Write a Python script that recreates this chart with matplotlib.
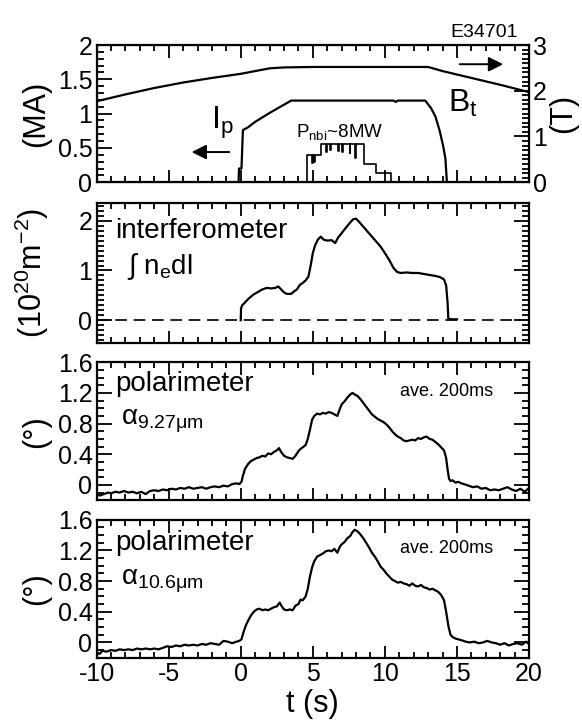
import numpy as np
import matplotlib
matplotlib.use('Agg')
import matplotlib.pyplot as plt
from matplotlib.ticker import MultipleLocator, FuncFormatter

plt.rcParams['font.family'] = 'Liberation Sans'
plt.rcParams['mathtext.fontset'] = 'custom'
plt.rcParams['mathtext.rm'] = 'Liberation Sans'
plt.rcParams['mathtext.it'] = 'Liberation Sans:italic'
plt.rcParams['mathtext.bf'] = 'Liberation Sans:bold'

# ---- data (shot E34701) ----
# toroidal field (T), right axis
bt_t = [-10, -8, -6, -4, -2, 0, 1, 2, 3, 5, 13, 14, 16, 18, 20]
bt_v = [1.77, 1.92, 2.06, 2.18, 2.28, 2.37, 2.43, 2.49, 2.51, 2.52, 2.52, 2.43, 2.28, 2.13, 1.97]

# plasma current (MA)
ip_t = [-10, -0.15, -0.12, 0.05, 0.15, 0.5, 1.0, 2.0, 3.0, 3.5, 10.6, 10.75, 10.9, 12.8,
        13.2, 13.5, 13.8, 14.05, 14.2, 14.3]
ip_v = [0.0, 0.0, 0.2, 0.2, 0.76, 0.80, 0.88, 1.01, 1.13, 1.19, 1.19, 1.17, 1.19, 1.19,
        1.08, 0.96, 0.75, 0.52, 0.34, 0.0]

# NBI power trace (drawn on MA axis)
nbi_t = [4.5, 4.6, 4.95, 5.0, 5.1, 5.15, 5.55, 5.9, 5.95, 6.2, 6.25, 6.75, 6.8, 7.05, 7.1,
         7.55, 7.6, 7.95, 8.0, 8.55, 9.4, 10.4, 10.5]
nbi_v = [0.0, 0.40, 0.28, 0.40, 0.30, 0.40, 0.55, 0.44, 0.55, 0.47, 0.55, 0.45, 0.55, 0.44, 0.55,
         0.42, 0.55, 0.35, 0.55, 0.27, 0.13, 0.0, 0.0]

# line integrated density (1e20 m^-2)
ne = [(0.0, 0.0), (0.02, 0.24), (0.1, 0.30), (0.3, 0.36), (0.6, 0.45), (0.9, 0.52), (1.2, 0.57),
      (1.5, 0.62), (1.8, 0.65), (2.1, 0.64), (2.4, 0.65), (2.6, 0.68), (2.8, 0.62), (3.0, 0.56),
      (3.2, 0.53), (3.5, 0.53), (3.7, 0.58), (3.9, 0.62), (4.1, 0.71), (4.3, 0.75), (4.5, 0.80),
      (4.7, 0.88), (4.85, 1.10), (5.0, 1.35), (5.15, 1.50), (5.35, 1.62), (5.55, 1.68),
      (5.75, 1.62), (6.0, 1.60), (6.3, 1.61), (6.55, 1.55), (6.75, 1.66), (7.0, 1.75),
      (7.3, 1.86), (7.55, 1.95), (7.8, 2.03), (8.0, 2.04), (8.2, 1.98), (8.5, 1.88), (8.8, 1.78),
      (9.1, 1.68), (9.4, 1.58), (9.7, 1.48), (10.0, 1.35), (10.3, 1.21), (10.6, 1.05),
      (10.85, 0.97), (11.1, 0.95), (11.5, 0.96), (11.9, 0.95), (12.3, 0.95), (12.7, 0.93),
      (13.1, 0.91), (13.5, 0.89), (13.8, 0.87), (14.1, 0.82), (14.25, 0.70), (14.35, 0.35),
      (14.4, 0.03), (14.6, 0.02), (15.0, 0.02)]

# Faraday rotation, 9.27 um (deg)
a9 = [(-10.0, -0.10), (-9.8, -0.14), (-9.5, -0.12), (-9.2, -0.10), (-9.0, -0.11), (-8.7, -0.09),
      (-8.4, -0.10), (-8.1, -0.08), (-7.8, -0.10), (-7.5, -0.09), (-7.2, -0.11), (-6.9, -0.09),
      (-6.6, -0.12), (-6.3, -0.08), (-6.0, -0.07), (-5.7, -0.08), (-5.4, -0.06), (-5.1, -0.07),
      (-4.8, -0.05), (-4.5, -0.06), (-4.2, -0.04), (-3.9, -0.05), (-3.6, -0.03), (-3.3, -0.05),
      (-3.0, -0.04), (-2.7, -0.03), (-2.4, -0.05), (-2.1, -0.03), (-1.8, -0.02), (-1.5, -0.03),
      (-1.2, -0.01), (-0.9, -0.02), (-0.6, 0.01), (-0.3, 0.02), (-0.1, 0.01), (0.05, 0.04),
      (0.15, 0.12), (0.3, 0.21), (0.5, 0.27), (0.7, 0.31), (0.9, 0.33), (1.1, 0.35), (1.3, 0.36),
      (1.5, 0.38), (1.7, 0.37), (1.9, 0.41), (2.1, 0.40), (2.3, 0.43), (2.5, 0.45), (2.65, 0.48),
      (2.8, 0.43), (3.0, 0.38), (3.2, 0.36), (3.4, 0.35), (3.6, 0.34), (3.8, 0.38), (4.0, 0.44),
      (4.15, 0.47), (4.3, 0.49), (4.5, 0.52), (4.65, 0.60), (4.8, 0.72), (4.95, 0.85), (5.1, 0.90),
      (5.3, 0.93), (5.5, 0.92), (5.7, 0.94), (5.9, 0.93), (6.1, 0.95), (6.3, 0.94), (6.5, 0.92),
      (6.7, 0.90), (6.85, 0.98), (7.0, 1.05), (7.2, 1.09), (7.4, 1.14), (7.6, 1.18), (7.75, 1.20),
      (7.9, 1.18), (8.1, 1.16), (8.3, 1.12), (8.5, 1.07), (8.7, 1.02), (8.9, 0.97), (9.1, 0.92),
      (9.3, 0.89), (9.5, 0.86), (9.7, 0.84), (9.9, 0.82), (10.1, 0.79), (10.3, 0.75), (10.5, 0.70),
      (10.7, 0.66), (10.9, 0.63), (11.1, 0.61), (11.3, 0.58), (11.5, 0.57), (11.7, 0.58),
      (11.9, 0.59), (12.1, 0.58), (12.3, 0.61), (12.5, 0.60), (12.7, 0.62), (12.9, 0.63),
      (13.1, 0.60), (13.3, 0.59), (13.5, 0.56), (13.7, 0.53), (13.9, 0.49), (14.1, 0.45),
      (14.25, 0.35), (14.35, 0.20), (14.45, 0.08), (14.55, 0.05), (14.7, 0.06), (14.9, 0.03),
      (15.1, 0.04), (15.3, 0.02), (15.5, 0.01), (15.8, -0.01), (16.1, -0.03), (16.4, -0.02),
      (16.7, -0.05), (17.0, -0.04), (17.3, -0.07), (17.6, -0.06), (17.9, -0.07), (18.2, -0.05),
      (18.5, -0.03), (18.8, -0.06), (19.1, -0.08), (19.4, -0.05), (19.7, -0.09), (20.0, -0.04)]

# Faraday rotation, 10.6 um (deg)
a10 = [(-10.0, -0.13), (-9.8, -0.15), (-9.6, -0.11), (-9.3, -0.12), (-9.0, -0.10), (-8.7, -0.11),
       (-8.4, -0.09), (-8.1, -0.10), (-7.8, -0.09), (-7.5, -0.10), (-7.2, -0.08), (-6.9, -0.09),
       (-6.6, -0.08), (-6.3, -0.09), (-6.0, -0.08), (-5.7, -0.09), (-5.4, -0.07), (-5.1, -0.05),
       (-4.8, -0.06), (-4.5, -0.04), (-4.2, -0.05), (-3.9, -0.03), (-3.6, -0.04), (-3.3, -0.03),
       (-3.0, -0.04), (-2.7, -0.02), (-2.4, -0.03), (-2.1, -0.01), (-1.8, -0.02), (-1.5, -0.03),
       (-1.2, 0.02), (-0.9, 0.01), (-0.6, -0.01), (-0.3, 0.01), (-0.1, 0.02), (0.05, 0.04),
       (0.2, 0.14), (0.35, 0.22), (0.5, 0.28), (0.7, 0.35), (0.9, 0.40), (1.1, 0.43), (1.3, 0.44),
       (1.5, 0.42), (1.7, 0.43), (1.9, 0.42), (2.1, 0.44), (2.3, 0.46), (2.5, 0.47), (2.7, 0.52),
       (2.85, 0.47), (3.0, 0.43), (3.2, 0.42), (3.4, 0.43), (3.6, 0.42), (3.8, 0.48), (4.0, 0.50),
       (4.15, 0.56), (4.3, 0.55), (4.5, 0.60), (4.65, 0.70), (4.8, 0.86), (4.95, 0.98), (5.1, 1.06),
       (5.3, 1.12), (5.5, 1.14), (5.7, 1.16), (5.9, 1.19), (6.1, 1.20), (6.3, 1.19), (6.5, 1.22),
       (6.7, 1.17), (6.85, 1.24), (7.0, 1.28), (7.2, 1.31), (7.4, 1.36), (7.6, 1.39), (7.75, 1.44),
       (7.9, 1.47), (8.1, 1.45), (8.3, 1.41), (8.5, 1.36), (8.7, 1.30), (8.9, 1.24), (9.1, 1.17),
       (9.3, 1.12), (9.5, 1.06), (9.7, 0.99), (9.9, 0.95), (10.1, 0.90), (10.3, 0.86), (10.5, 0.82),
       (10.7, 0.80), (10.9, 0.78), (11.1, 0.79), (11.3, 0.77), (11.5, 0.76), (11.7, 0.74),
       (11.9, 0.77), (12.1, 0.74), (12.3, 0.73), (12.5, 0.75), (12.7, 0.72), (12.9, 0.71),
       (13.1, 0.69), (13.3, 0.70), (13.5, 0.68), (13.7, 0.66), (13.9, 0.62), (14.1, 0.55),
       (14.25, 0.40), (14.4, 0.22), (14.55, 0.10), (14.7, 0.07), (14.9, 0.05), (15.1, 0.04),
       (15.3, 0.03), (15.6, 0.01), (15.9, 0.0), (16.2, 0.01), (16.5, -0.01), (16.8, 0.0),
       (17.1, 0.02), (17.4, 0.0), (17.7, -0.01), (18.0, -0.03), (18.3, -0.01), (18.6, -0.04),
       (18.9, -0.02), (19.2, -0.01), (19.5, -0.03), (19.8, 0.01), (20.0, -0.02)]

fmt = FuncFormatter(lambda v, p: '%g' % round(v, 3))
LW = 1.6


def style(ax, ymaj, ymin, right=True):
    ax.set_xlim(-10, 20)
    ax.xaxis.set_major_locator(MultipleLocator(5))
    ax.xaxis.set_minor_locator(MultipleLocator(1))
    ax.yaxis.set_major_locator(MultipleLocator(ymaj))
    ax.yaxis.set_minor_locator(MultipleLocator(ymin))
    ax.xaxis.set_major_formatter(fmt)
    ax.yaxis.set_major_formatter(fmt)
    ax.tick_params(which='both', direction='in', top=True, right=right, width=1.3,
                   labelsize=18, labelbottom=False, pad=3)
    ax.tick_params(axis='x', which='major', length=9)
    ax.tick_params(axis='x', which='minor', length=4.5)
    ax.tick_params(axis='y', which='major', length=11)
    ax.tick_params(axis='y', which='minor', length=5)
    for s in ax.spines.values():
        s.set_linewidth(1.6)


fig = plt.figure(figsize=(5.82, 7.26), dpi=100)
L, W = 0.166, 0.743
ax1 = fig.add_axes([L, 0.749, W, 0.189])
ax2 = fig.add_axes([L, 0.528, W, 0.192])
ax3 = fig.add_axes([L, 0.311, W, 0.190])
ax4 = fig.add_axes([L, 0.094, W, 0.190])

# ---- panel 1: Ip, Bt, NBI ----
ax1r = ax1.twinx()
ax1.plot(ip_t, ip_v, color='k', lw=LW)
ax1.step(nbi_t, nbi_v, where='post', color='k', lw=1.2)
ax1r.plot(bt_t, bt_v, color='k', lw=LW)
ax1.set_ylim(0, 2)
ax1r.set_ylim(0, 3)
style(ax1, 0.5, 0.1, right=False)
ax1r.yaxis.set_major_locator(MultipleLocator(1))
ax1r.yaxis.set_minor_locator(MultipleLocator(0.1))
ax1r.yaxis.set_major_formatter(fmt)
ax1r.tick_params(which='both', direction='in', width=1.3, labelsize=18, pad=3)
ax1r.tick_params(which='major', length=11)
ax1r.tick_params(which='minor', length=5)
ax1.set_ylabel('(MA)', fontsize=22)
ax1.yaxis.set_label_coords(-0.105, 0.5)
ax1r.set_ylabel('(T)', fontsize=22, rotation=90)
ax1r.yaxis.set_label_coords(1.045, 0.5)
ax1.text(0.975, 1.03, 'E34701', transform=ax1.transAxes, ha='right', va='bottom', fontsize=14)
ax1.text(-2.05, 0.77, r'$\mathregular{I_p}$', fontsize=23, ha='left', va='baseline')
ax1.annotate('', xy=(-3.6, 0.44), xytext=(-0.6, 0.44),
             arrowprops=dict(arrowstyle='-|>', mutation_scale=22, lw=1.4, color='k'))
ax1.text(3.85, 0.66, r'$\mathregular{P_{nbi}}$~8MW', fontsize=13.5, ha='left', va='baseline')
ax1.text(14.35, 1.02, r'$\mathregular{B_t}$', fontsize=23, ha='left', va='baseline')
ax1.annotate('', xy=(18.4, 1.72), xytext=(15.0, 1.72),
             arrowprops=dict(arrowstyle='-|>', mutation_scale=22, lw=1.4, color='k'))

# ---- panel 2: interferometer ----
ne_t, ne_v = np.array(ne).T
ax2.axhline(0, color='k', lw=1.2, ls=(0, (7, 4)))
ax2.plot(ne_t, ne_v, color='k', lw=LW)
ax2.set_ylim(-0.45, 2.35)
style(ax2, 1, 0.1)
ax2.set_ylabel(r'(10$^{\mathregular{20}}$m$^{\mathregular{-2}}$)', fontsize=22)
ax2.yaxis.set_label_coords(-0.105, 0.5)
ax2.text(-8.7, 1.66, 'interferometer', fontsize=20, ha='left', va='baseline')
ax2.text(-7.9, 0.93, r'$\mathregular{\int\ n_e dl}$', fontsize=20, ha='left', va='baseline')

# ---- panels 3, 4: polarimeter ----
for ax, data, lab, yb in [(ax3, a9, r'$\mathregular{\alpha_{9.27\mu m}}$', (1.23, 0.79, 1.16)),
                          (ax4, a10, r'$\mathregular{\alpha_{10.6\mu m}}$', (1.21, 0.76, 1.17))]:
    tt, vv = np.array(data).T
    ax.plot(tt, vv, color='k', lw=LW)
    ax.set_ylim(-0.2, 1.6)
    style(ax, 0.4, 0.1)
    ax.set_ylabel('(°)', fontsize=22)
    ax.yaxis.set_label_coords(-0.105, 0.5)
    ax.text(-8.7, yb[0], 'polarimeter', fontsize=20, ha='left', va='baseline')
    ax.text(-8.3, yb[1], lab, fontsize=20, ha='left', va='baseline')
    ax.text(11.05, yb[2], 'ave. 200ms', fontsize=13, ha='left', va='baseline')

ax4.tick_params(labelbottom=True)
ax4.set_xlabel('t (s)', fontsize=22, labelpad=2)

fig.savefig('out.png', dpi=100)
